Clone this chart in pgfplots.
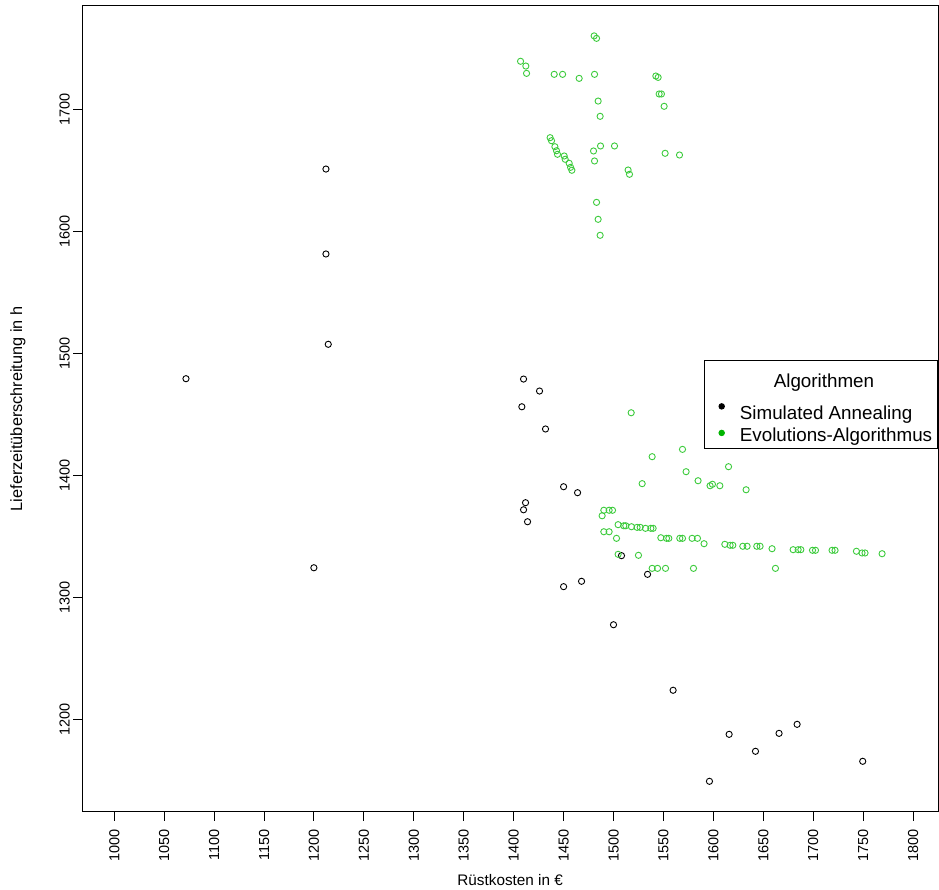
\documentclass[border=0pt]{standalone}
\usepackage{fontspec}
\setmainfont{Liberation Sans}
\usepackage{pgfplots}
\pgfplotsset{compat=1.18}
\definecolor{evo}{HTML}{3CCB3C}
\definecolor{evodot}{HTML}{00B400}
\begin{document}
\begin{tikzpicture}
\path[use as bounding box] (-82.3pt,-77.3pt) rectangle (856.7pt,811.7pt);
\begin{axis}[
  at={(0pt,0pt)}, anchor=south west,
  scale only axis, width=855.7pt, height=805.7pt,
  xmin=967.96, xmax=1825, ymin=1124.3, ymax=1784.5,
  axis line style={line width=1pt},
  xtick={1000,1050,...,1800}, ytick={1200,1300,...,1700},
  minor tick num=0,
  tick align=outside, major tick length=9pt,
  tick style={line width=1pt, black},
  xtick pos=bottom, ytick pos=left,
  /pgf/number format/assume math mode=true,
  /pgf/number format/1000 sep={},
  tick label style={font=\fontsize{14.5}{17}\selectfont},
  xticklabel style={yshift=-5pt, rotate=90, anchor=east},
  yticklabel style={rotate=90, anchor=south},
  xlabel={Rüstkosten in €},
  ylabel={Lieferzeitüberschreitung in h},
  x label style={font=\fontsize{15.3}{18}\selectfont, at={(axis description cs:0.5,0)}, anchor=center, yshift=-68.3pt},
  y label style={font=\fontsize{16.3}{19}\selectfont, at={(axis description cs:0,0.5)}, anchor=center, yshift=64.3pt},
  legend style={at={(axis description cs:1,0.5606)}, anchor=north east,
    draw=black, line width=1pt, inner xsep=8.5pt, inner ysep=6.1pt,
    nodes={inner sep=0pt}, column sep=15.5pt, row sep=2.7pt,
    font=\fontsize{18.8}{22}\selectfont},
  legend cell align=left,
]
\addplot[only marks, mark=o, mark size=3.1pt, black, mark options={line width=0.9pt}, forget plot] coordinates {
(1212.0,1650.9) (1212.0,1581.3) (1214.3,1507.3) (1071.8,1479.1) (1199.9,1324.2)
(1409.9,1478.8) (1425.9,1469.0) (1408.2,1456.1) (1431.9,1437.9) (1450.0,1390.6)
(1464.0,1385.7) (1411.9,1377.5) (1409.9,1371.7) (1413.9,1361.9) (1450.0,1308.7)
(1468.0,1313.1) (1508.0,1334.1) (1534.1,1318.8) (1500.0,1277.5) (1559.7,1223.8)
(1615.8,1187.7) (1665.8,1188.5) (1683.9,1195.9) (1642.2,1173.8) (1749.6,1165.6)
(1596.1,1149.2)
};
\addplot[only marks, mark=o, mark size=3.1pt, evo, mark options={line width=0.9pt}, forget plot] coordinates {
(1480.6,1760.0) (1483.0,1758.0)
(1406.9,1739.2) (1412.2,1735.3) (1412.9,1729.3)
(1440.6,1728.5) (1449.0,1728.5) (1465.6,1725.2) (1481.0,1728.5)
(1542.4,1727.1) (1544.7,1726.0) (1545.7,1712.4) (1548.0,1712.4) (1550.7,1702.3)
(1484.6,1706.6) (1486.6,1694.1)
(1436.5,1676.6) (1437.9,1674.1) (1441.3,1669.2) (1442.9,1665.9) (1443.9,1663.0)
(1450.6,1661.6) (1451.6,1658.9) (1455.6,1655.6) (1457.0,1652.3) (1458.3,1649.9)
(1487.0,1669.8) (1501.0,1669.8) (1480.0,1665.7) (1481.0,1657.5)
(1551.7,1663.8) (1566.1,1662.4) (1514.6,1650.1) (1516.0,1646.6)
(1483.0,1623.6) (1484.6,1609.7) (1486.6,1596.6)
(1517.7,1451.2) (1569.1,1421.2) (1538.7,1415.2) (1615.2,1407.0) (1572.7,1402.9)
(1528.7,1393.1) (1584.7,1395.5) (1596.7,1391.4) (1599.1,1392.6) (1606.5,1391.4)
(1632.8,1388.1)
(1490.3,1371.3) (1495.6,1371.3) (1499.0,1371.3) (1488.6,1366.8)
(1490.3,1353.7) (1495.6,1353.7) (1503.0,1348.3)
(1504.6,1359.5) (1510.3,1358.6) (1512.3,1358.6) (1518.0,1357.8) (1523.6,1357.3)
(1526.7,1357.3) (1532.0,1356.5) (1537.4,1356.5) (1539.7,1356.5)
(1547.4,1348.8) (1553.1,1348.3) (1555.4,1348.3) (1566.4,1348.3) (1569.1,1348.3)
(1578.7,1348.3) (1584.1,1348.3) (1590.7,1343.9)
(1611.5,1343.4) (1616.8,1342.6) (1619.5,1342.6) (1629.5,1341.8) (1633.8,1341.8)
(1643.5,1341.8) (1646.8,1341.8) (1658.8,1339.8) (1679.9,1339.0) (1684.9,1339.0)
(1687.6,1339.0) (1699.3,1338.5) (1702.3,1338.5) (1718.9,1338.5) (1721.9,1338.5)
(1743.3,1337.7) (1748.9,1336.3) (1751.9,1336.3) (1769.0,1335.7)
(1504.6,1335.2) (1525.0,1334.4)
(1538.7,1323.7) (1544.1,1323.7) (1552.1,1323.7) (1580.1,1323.7) (1662.2,1323.7)
};
\addlegendimage{empty legend}
\addlegendentry{\rule{0pt}{21.3pt}\makebox[189.1pt][l]{\hspace{33.9pt}Algorithmen}}
\addlegendimage{only marks, mark=*, mark size=2.7pt, black}
\addlegendentry{\rule{0pt}{27pt}\makebox[189.1pt][l]{Simulated Annealing}}
\addlegendimage{only marks, mark=*, mark size=2.7pt, evodot}
\addlegendentry{\rule{0pt}{17.7pt}\makebox[189.1pt][l]{Evolutions-Algorithmus}}
\end{axis}
\end{tikzpicture}
\end{document}
